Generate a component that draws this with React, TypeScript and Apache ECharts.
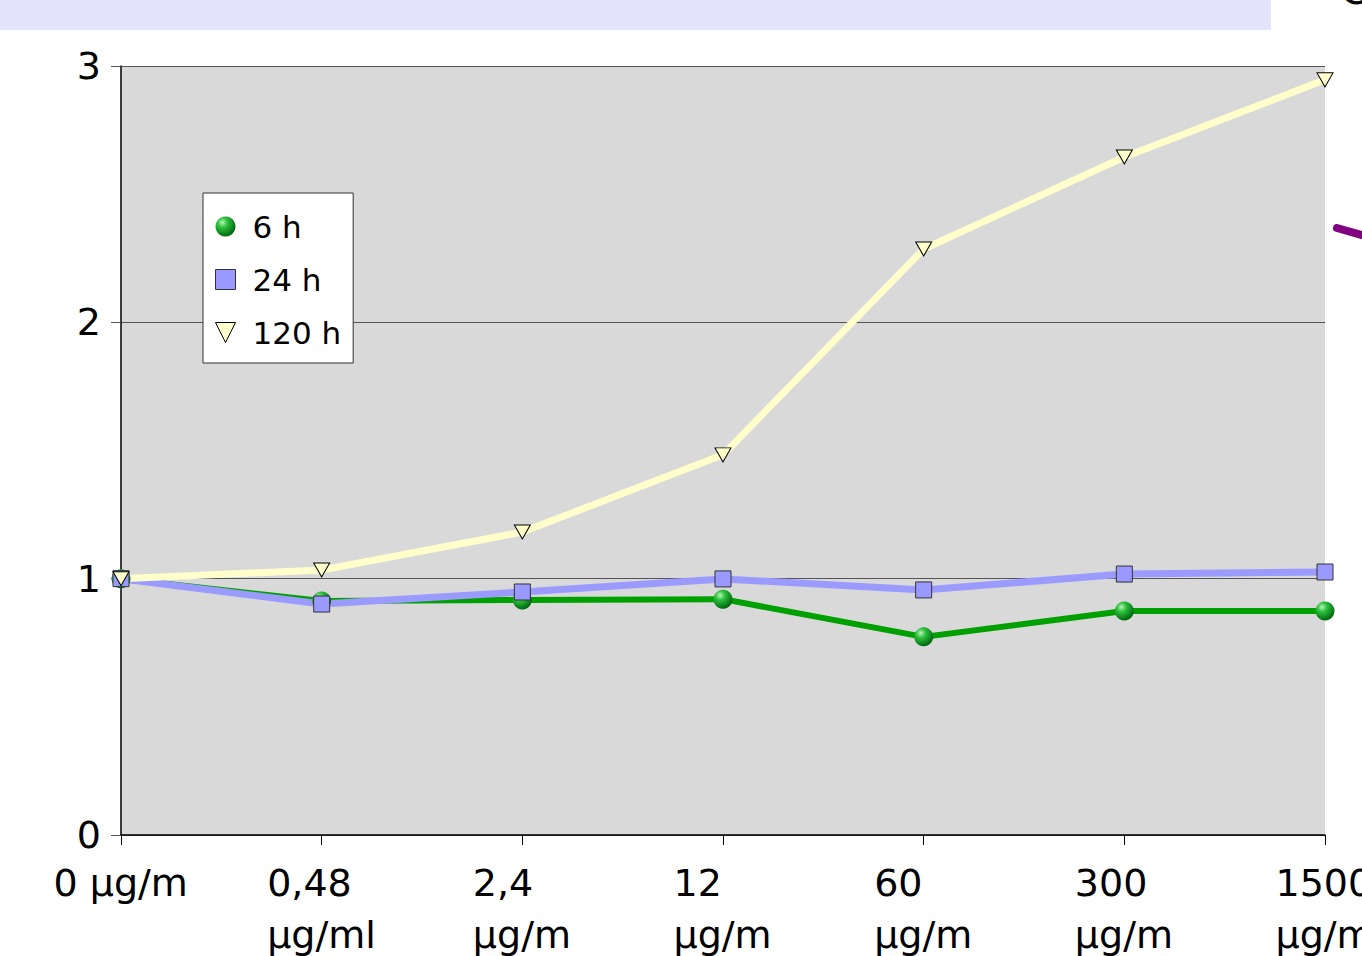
import React, { useEffect, useRef } from "react";
import * as echarts from "echarts";

const categories = ["0 µg/m", "0,48\nµg/ml", "2,4\nµg/m", "12\nµg/m", "60\nµg/m", "300\nµg/m", "1500\nµg/m"];
const seriesNames = ["6 h", "24 h", "120 h"];
const values6h = [1.0, 0.913, 0.917, 0.92, 0.773, 0.874, 0.874];
const values24h = [1.0, 0.901, 0.948, 0.999, 0.956, 1.018, 1.026];
const values120h = [1.0, 1.034, 1.182, 1.483, 2.286, 2.645, 2.946];
const yTicks = [0, 1, 2, 3];

const FONT = '"DejaVu Sans", sans-serif';
const AXIS_FS = 38;
const TRI = "path://M0,0 L10,0 L5,10 Z";

export default function App() {
  const ref = useRef<HTMLDivElement>(null);
  useEffect(() => {
    if (!ref.current) return;
    const chart = echarts.init(ref.current, null, { renderer: "svg" });
    const canvas = document.createElement("canvas");
    const ctx = canvas.getContext("2d")!;
    ctx.font = `${AXIS_FS}px "DejaVu Sans"`;
    const rich: Record<string, any> = {};
    categories.forEach((c, i) => {
      const w = Math.max(...c.split("\n").map((l) => ctx.measureText(l).width));
      rich["c" + i] = {
        width: Math.ceil(w),
        align: "left",
        fontSize: AXIS_FS,
        fontFamily: FONT,
        color: "#000",
        lineHeight: 52,
      };
    });
    const sphere = new echarts.graphic.RadialGradient(0.35, 0.3, 0.7, [
      { offset: 0, color: "#b8f5b8" },
      { offset: 0.35, color: "#2fc23f" },
      { offset: 1, color: "#006a10" },
    ]);
    chart.setOption({
      animation: false,
      backgroundColor: "#ffffff",
      grid: {
        left: 121,
        right: 37,
        top: 66,
        bottom: 121,
        show: true,
        backgroundColor: "#d9d9d9",
        borderWidth: 0,
        containLabel: false,
        outerBoundsMode: "none",
      },
      legend: {
        orient: "vertical",
        left: 203,
        top: 193,
        backgroundColor: "#ffffff",
        borderColor: "#333",
        borderWidth: 1,
        borderRadius: 0,
        padding: [18, 12, 15, 12],
        itemGap: 22,
        itemWidth: 20,
        itemHeight: 20,
        selectedMode: false,
        textStyle: { fontFamily: FONT, fontSize: 31, color: "#000", padding: [0, 0, 0, 12] },
        data: [
          { name: seriesNames[0], icon: "circle" },
          { name: seriesNames[1], icon: "rect", itemStyle: { borderColor: "#333", borderWidth: 1 } },
          { name: seriesNames[2], icon: TRI, itemStyle: { borderColor: "#000", borderWidth: 1 } },
        ],
      },
      xAxis: {
        type: "category",
        data: categories,
        boundaryGap: false,
        axisLine: { show: true, lineStyle: { color: "#000", width: 1.5 } },
        axisTick: { show: true, length: 10, alignWithLabel: true, lineStyle: { color: "#000" } },
        axisLabel: {
          interval: 0,
          margin: 22,
          hideOverlap: false,
          formatter: (v: string, i: number) => v.split("\n").map((l) => `{c${i}|${l}}`).join("\n"),
          rich,
        },
        splitLine: { show: false },
      },
      yAxis: {
        type: "value",
        min: yTicks[0],
        max: yTicks[yTicks.length - 1],
        interval: 1,
        axisLine: { show: true, lineStyle: { color: "#000", width: 1.5 } },
        axisTick: { show: true, length: 10, lineStyle: { color: "#555" } },
        axisLabel: { margin: 20, fontFamily: FONT, fontSize: AXIS_FS, color: "#000" },
        splitLine: { show: true, lineStyle: { color: "#555", width: 1.2 } },
      },
      series: [
        {
          name: seriesNames[0],
          type: "line",
          data: values6h,
          symbol: "circle",
          symbolSize: 19,
          lineStyle: { color: "#00a000", width: 6 },
          itemStyle: { color: sphere },
        },
        {
          name: seriesNames[1],
          type: "line",
          data: values24h,
          symbol: "rect",
          symbolSize: 16,
          lineStyle: { color: "#9a9aff", width: 7 },
          itemStyle: { color: "#9999ff", borderColor: "#333", borderWidth: 1 },
        },
        {
          name: seriesNames[2],
          type: "line",
          data: values120h,
          symbol: TRI,
          symbolSize: [16, 14],
          lineStyle: { color: "#ffffcc", width: 7 },
          itemStyle: { color: "#ffffcc", borderColor: "#000", borderWidth: 1 },
        },
      ],
      graphic: [
        { type: "rect", shape: { x: 0, y: 0, width: 1271, height: 30 }, style: { fill: "#e4e4fc" }, silent: true },
        {
          type: "line",
          shape: { x1: 1337, y1: 228, x2: 1390, y2: 243 },
          style: { stroke: "#800080", lineWidth: 8, lineCap: "round" },
          silent: true,
        },
        {
          type: "text",
          x: 1340,
          y: -30,
          style: { text: "C", fontFamily: FONT, fontSize: 40, fill: "#000" },
          silent: true,
        },
      ],
    });
    return () => chart.dispose();
  }, []);
  return (
    <div
      ref={ref}
      style={{ position: "fixed", left: 0, top: 0, width: 1362, height: 956, overflow: "hidden" }}
    />
  );
}
